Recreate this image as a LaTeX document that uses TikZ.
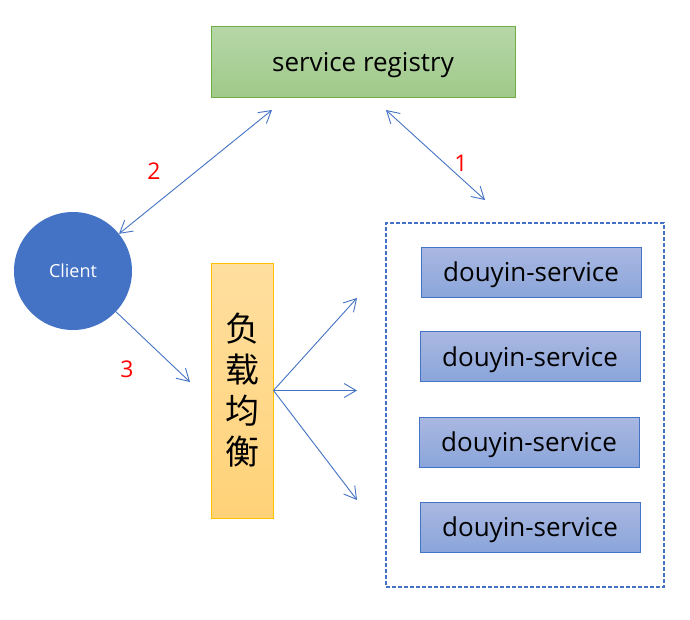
\documentclass[tikz,border=0pt]{standalone}
\usepackage{fontspec}
\setmainfont{Open Sans}
\newfontfamily\cjk{Noto Sans CJK SC}
\usetikzlibrary{arrows.meta,positioning}
\definecolor{lineblue}{HTML}{4472C4}
\definecolor{regtop}{HTML}{B6D7A8}
\definecolor{regbot}{HTML}{A0C98A}
\definecolor{regline}{HTML}{70AD47}
\definecolor{lbtop}{HTML}{FFDF9F}
\definecolor{lbbot}{HTML}{FFD278}
\definecolor{lbline}{HTML}{FFC000}
\definecolor{svctop}{HTML}{AAB8E1}
\definecolor{svcbot}{HTML}{8AA5DA}
\tikzset{
  regbox/.style={draw=regline, line width=1pt, top color=regtop, bottom color=regbot,
    inner sep=0pt, minimum width=304pt, minimum height=71pt, text depth=0pt,
    font=\fontsize{26}{30}\selectfont},
  lbbox/.style={draw=lbline, line width=1pt, top color=lbtop, bottom color=lbbot,
    inner sep=0pt, minimum width=62pt, minimum height=255pt, align=center,
    font=\cjk\fontsize{34}{41}\selectfont},
  svcbox/.style={draw=lineblue, line width=1pt, top color=svctop, bottom color=svcbot,
    inner sep=0pt, minimum width=220pt, minimum height=50pt, text depth=0pt,
    font=\fontsize{26}{30}\selectfont},
  groupbox/.style={draw=lineblue, line width=1.6pt, dash pattern=on 4pt off 2pt,
    minimum width=278pt, minimum height=364pt, inner sep=0pt},
  num/.style={text=red, font=\fontsize{23}{27}\selectfont},
  link/.style={draw=lineblue, line width=0.9pt, -{Straight Barb[length=12pt,width=14pt]}},
  bothlink/.style={draw=lineblue, line width=0.9pt,
    {Straight Barb[length=12pt,width=14pt]}-{Straight Barb[length=12pt,width=14pt]}}
}
\begin{document}
\begin{tikzpicture}[x=1pt, y=-1pt]
  \useasboundingbox [fill=white] (0, 0) rectangle (690, 619);
  % boxes
  \node (registry) [regbox] at (363, 61.5) {service registry};
  \node (client) [circle, fill=lineblue, text=white, minimum size=118pt, inner sep=0pt,
                  font=\fontsize{18}{21}\selectfont] at (73, 271) {Client};
  \node (lb) [lbbox] at (242, 390.5) {负\\载\\均\\衡};
  \node (group) [groupbox] at (525, 405) {};
  \node (svc1) [svcbox] at (531, 272) {douyin-service};
  \node (svc2) [svcbox] at (530, 356.5) {douyin-service};
  \node (svc3) [svcbox] at (529, 442) {douyin-service};
  \node (svc4) [svcbox] at (530, 527) {douyin-service};
  % arrow ends
  \coordinate (regleft) at (272, 110);
  \coordinate (regright) at (386, 110);
  \coordinate (grouptop) at (485, 200);
  \coordinate (lbin) at (190, 382);
  \coordinate (out1) at (357, 298);
  \coordinate (out2) at (357, 390.5);
  \coordinate (out3) at (357, 500);
  \draw [bothlink] (regright) -- (grouptop);
  \draw [bothlink] (regleft) -- (client);
  \draw [link] (client) -- (lbin);
  \draw [link] (lb.east) -- (out1);
  \draw [link] (lb.east) -- (out2);
  \draw [link] (lb.east) -- (out3);
  % step numbers
  \node (num1) [num] at (461, 163) {1};
  \node (num2) [num] at (154, 171) {2};
  \node (num3) [num] at (127, 369) {3};
\end{tikzpicture}
\end{document}
